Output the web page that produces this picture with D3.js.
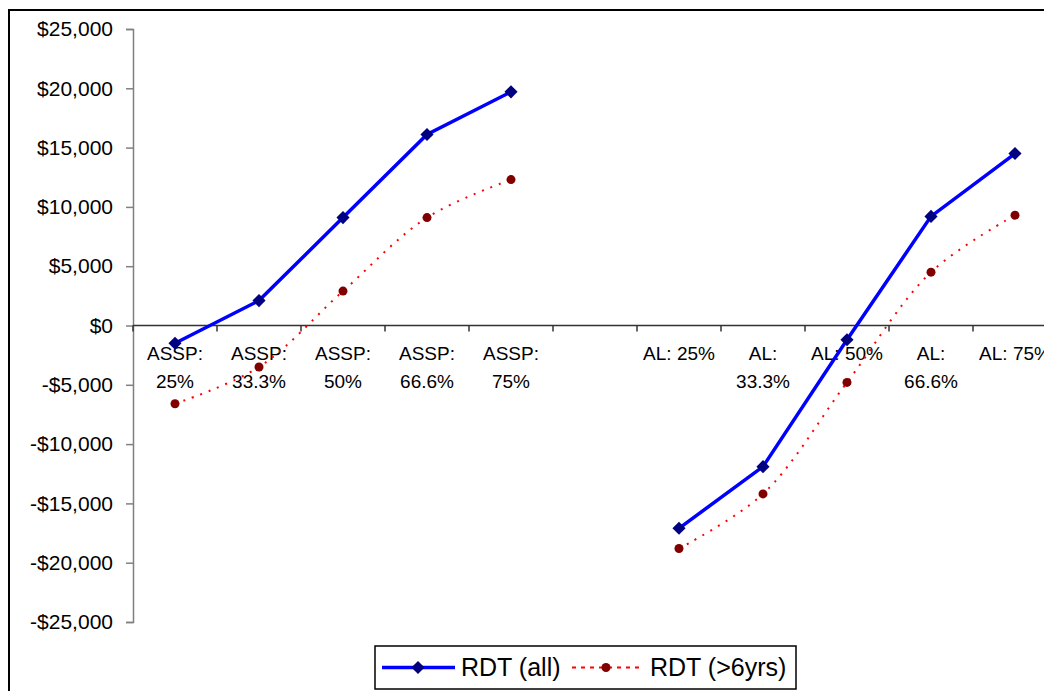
<!DOCTYPE html>
<html>
<head>
<meta charset="utf-8">
<script src="https://cdn.jsdelivr.net/npm/d3@7"></script>
<style>
  body { margin: 0; background: #fff; }
  svg { display: block; font-family: "Liberation Sans", Arial, sans-serif; }
</style>
</head>
<body>
<div id="chart"></div>
<script>
// Categories (blank gap between the two groups)
const categories = ["ASSP: 25%", "ASSP: 33.3%", "ASSP: 50%", "ASSP: 66.6%", "ASSP: 75%", "",
                    "AL: 25%", "AL: 33.3%", "AL: 50%", "AL: 66.6%", "AL: 75%"];
// Tick labels as they wrap in the picture
const categoryLines = [["ASSP:", "25%"], ["ASSP:", "33.3%"], ["ASSP:", "50%"], ["ASSP:", "66.6%"], ["ASSP:", "75%"], [],
                       ["AL: 25%"], ["AL:", "33.3%"], ["AL: 50%"], ["AL:", "66.6%"], ["AL: 75%"]];

const rdtAll   = [-1500, 2100, 9100, 16100, 19700, null, -17100, -11900, -1200, 9200, 14500];
const rdtOver6 = [-6600, -3500, 2900, 9100, 12300, null, -18800, -14200, -4800, 4500, 9300];

const yTicks = [-25000, -20000, -15000, -10000, -5000, 0, 5000, 10000, 15000, 20000, 25000];

const seriesNames = ["RDT (all)", "RDT (>6yrs)"];

const width = 1044, height = 691;

const svg = d3.select("#chart").append("svg")
    .attr("width", width)
    .attr("height", height);

// Outer chart border
svg.append("rect")
    .attr("x", 9).attr("y", 10)
    .attr("width", 1100).attr("height", 720)
    .attr("fill", "none")
    .attr("stroke", "#000")
    .attr("stroke-width", 2);

let x = d3.scaleBand()
    .domain(categories)
    .range([133, 133 + 84 * categories.length]);

let y = d3.scaleLinear()
    .domain([-25000, 25000])
    .range([622, 29]);

let money = d3.format(",");
let fmt = v => v < 0 ? "-$" + money(-v) : "$" + money(v);

// Y axis
let yAxis = svg.append("g")
    .attr("transform", "translate(133,0)")
    .call(d3.axisLeft(y).tickValues(yTicks).tickSize(7).tickPadding(13).tickFormat(fmt));
yAxis.select(".domain").attr("stroke", "#808080").attr("stroke-width", 1.5);
yAxis.selectAll(".tick line").attr("stroke", "#808080").attr("stroke-width", 1.5);
yAxis.selectAll(".tick text")
    .attr("font-size", 21)
    .attr("fill", "#000")
    .attr("font-family", "Liberation Sans, Arial, sans-serif");

// X axis line at zero
let y0 = y(0);
let xAxis = svg.append("g");
xAxis.append("line")
    .attr("x1", 133).attr("x2", x.range()[1])
    .attr("y1", y0).attr("y2", y0)
    .attr("stroke", "#333").attr("stroke-width", 1.5);

// Tick marks between categories
let bounds = categories.map(c => x(c)).concat([x.range()[1]]);
xAxis.selectAll("line.tk")
    .data(bounds)
    .enter().append("line")
    .attr("class", "tk")
    .attr("x1", d => d).attr("x2", d => d)
    .attr("y1", y0).attr("y2", y0 + 6)
    .attr("stroke", "#333").attr("stroke-width", 1.5);

// Category labels
let labels = xAxis.selectAll("text.cat")
    .data(categories)
    .enter().append("text")
    .attr("class", "cat")
    .attr("text-anchor", "middle")
    .attr("font-size", 19)
    .attr("fill", "#000");
labels.each(function(c, i) {
    let t = d3.select(this);
    categoryLines[i].forEach((line, j) => {
        t.append("tspan")
            .attr("x", x(c) + x.bandwidth() / 2)
            .attr("y", 360 + j * 27.5)
            .text(line);
    });
});

let cx = (d, i) => x(categories[i]) + x.bandwidth() / 2;

// RDT (>6yrs): red dotted, smoothed
let lineOver6 = d3.line()
    .defined(d => d !== null)
    .x(cx)
    .y(d => y(d))
    .curve(d3.curveCatmullRom.alpha(0.5));

svg.append("path")
    .attr("d", lineOver6(rdtOver6))
    .attr("fill", "none")
    .attr("stroke", "#ff0000")
    .attr("stroke-width", 2)
    .attr("stroke-dasharray", "2,7");

svg.append("g")
    .selectAll("circle")
    .data(rdtOver6.map((v, i) => ({v: v, i: i})).filter(d => d.v !== null))
    .enter().append("circle")
    .attr("cx", d => cx(d.v, d.i))
    .attr("cy", d => y(d.v))
    .attr("r", 4.5)
    .attr("fill", "#800000");

// RDT (all): blue solid with diamonds
let lineAll = d3.line()
    .defined(d => d !== null)
    .x(cx)
    .y(d => y(d));

svg.append("path")
    .attr("d", lineAll(rdtAll))
    .attr("fill", "none")
    .attr("stroke", "#0000ff")
    .attr("stroke-width", 3.5);

let diamond = d3.symbol().type(d3.symbolDiamond2).size(110);
svg.append("g")
    .selectAll("path")
    .data(rdtAll.map((v, i) => ({v: v, i: i})).filter(d => d.v !== null))
    .enter().append("path")
    .attr("d", diamond)
    .attr("transform", d => "translate(" + cx(d.v, d.i) + "," + y(d.v) + ")")
    .attr("fill", "#000080");

// Legend
let legend = svg.append("g");
legend.append("rect")
    .attr("x", 375).attr("y", 646)
    .attr("width", 421).attr("height", 43)
    .attr("fill", "#fff")
    .attr("stroke", "#000")
    .attr("stroke-width", 1.5);

legend.append("line")
    .attr("x1", 382).attr("x2", 455)
    .attr("y1", 667.5).attr("y2", 667.5)
    .attr("stroke", "#0000ff").attr("stroke-width", 3.5);
legend.append("path")
    .attr("d", diamond)
    .attr("transform", "translate(418,667.5)")
    .attr("fill", "#000080");
legend.append("text")
    .attr("x", 461).attr("y", 676)
    .attr("font-size", 25)
    .text(seriesNames[0]);

legend.append("line")
    .attr("x1", 572).attr("x2", 640)
    .attr("y1", 667.5).attr("y2", 667.5)
    .attr("stroke", "#ff0000").attr("stroke-width", 2)
    .attr("stroke-dasharray", "4,5");
legend.append("circle")
    .attr("cx", 606).attr("cy", 667.5).attr("r", 4.5)
    .attr("fill", "#800000");
legend.append("text")
    .attr("x", 650).attr("y", 676)
    .attr("font-size", 25)
    .text(seriesNames[1]);
</script>
</body>
</html>
